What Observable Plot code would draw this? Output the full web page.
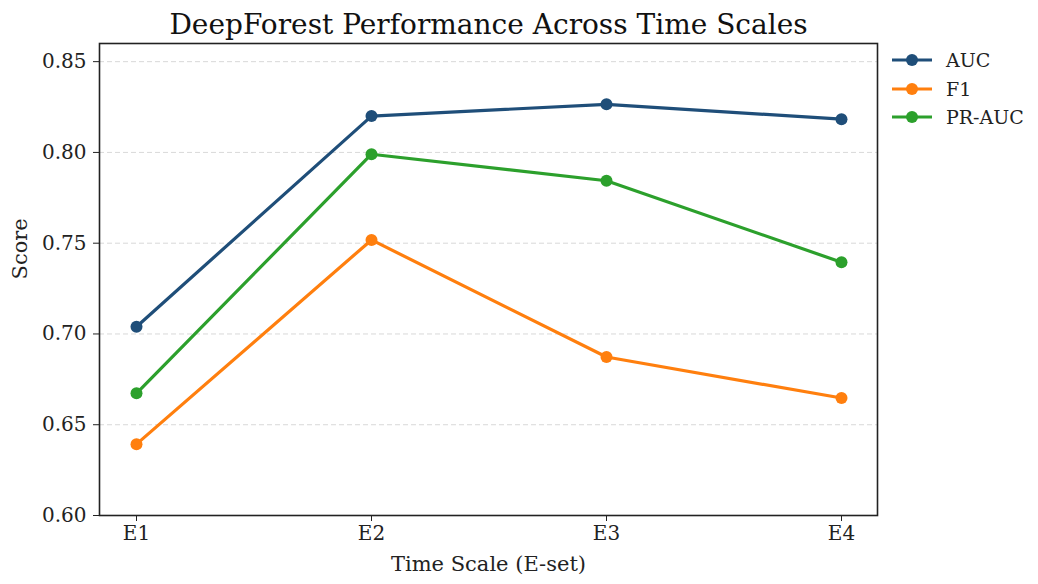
<!DOCTYPE html>
<html>
<head>
<meta charset="utf-8">
<script src="https://cdn.jsdelivr.net/npm/d3@7"></script>
<script src="https://cdn.jsdelivr.net/npm/@observablehq/plot@0.6"></script>
<style>
  html, body { margin: 0; padding: 0; background: #fff; }
  #wrap { position: relative; width: 1038px; height: 584px; font-family: "DejaVu Serif", serif; }
  #legend { position: absolute; left: 891px; top: 46px; font-size: 19px; color: #222; }
  .row { display: flex; align-items: center; height: 28.5px; }
  .row svg { margin-right: 13px; }
</style>
</head>
<body>
<div id="wrap"><div id="legend"></div></div>
<script>
const categories = ["E1", "E2", "E3", "E4"];
const metrics = ["AUC", "F1", "PR-AUC"];
const aucValues = [0.7040, 0.8200, 0.8265, 0.8183];
const f1Values = [0.6393, 0.7518, 0.6873, 0.6647];
const prAucValues = [0.6673, 0.7990, 0.7844, 0.7395];
const colors = ["#1f4e79", "#ff7f0e", "#2ca02c"];
const yTicks = [0.60, 0.65, 0.70, 0.75, 0.80, 0.85];
const title = "DeepForest Performance Across Time Scales";
const xLabel = "Time Scale (E-set)";
const yLabel = "Score";

const series = [aucValues, f1Values, prAucValues];
const data = [];
metrics.forEach((m, i) => categories.forEach((c, j) => data.push({metric: m, cat: c, value: series[i][j]})));

const chart = Plot.plot({
  width: 1038,
  height: 584,
  marginLeft: 99,
  marginRight: 161,
  marginTop: 43,
  marginBottom: 69,
  style: {fontFamily: "DejaVu Serif, serif", fontSize: "20px", color: "#222", background: "#fff"},
  x: {type: "point", domain: categories, padding: 0.15, label: null},
  y: {domain: [0.60, 0.86], label: null},
  color: {domain: metrics, range: colors},
  marks: [
    Plot.gridY(yTicks, {stroke: "#d0d0d0", strokeOpacity: 0.8, strokeDasharray: "5,3", strokeWidth: 1}),
    Plot.axisY({ticks: yTicks, tickFormat: d3.format(".2f"), tickSize: 6, tickPadding: 7, label: null, fontSize: 20, stroke: "#222"}),
    Plot.axisX({tickSize: 6, tickPadding: 4, label: null, fontSize: 20, stroke: "#222"}),
    Plot.line(data, {x: "cat", y: "value", z: "metric", stroke: "metric", strokeWidth: 3.2}),
    Plot.dot(data, {x: "cat", y: "value", fill: "metric", r: 6}),
    Plot.frame({stroke: "#222", strokeWidth: 1.6}),
    Plot.text([title], {frameAnchor: "top", dy: -10, lineAnchor: "bottom", fontSize: 28, fill: "#111"}),
    Plot.text([xLabel], {frameAnchor: "bottom", dy: 49, lineAnchor: "middle", fontSize: 21, fill: "#222"}),
    Plot.text([yLabel], {frameAnchor: "left", dx: -79, rotate: -90, lineAnchor: "middle", fontSize: 21, fill: "#222"})
  ]
});
const wrap = document.getElementById("wrap");
wrap.insertBefore(chart, wrap.firstChild);

const legend = document.getElementById("legend");
metrics.forEach((m, i) => {
  const row = document.createElement("div");
  row.className = "row";
  row.innerHTML = `<svg width="42" height="14"><line x1="1" y1="7" x2="41" y2="7" stroke="${colors[i]}" stroke-width="3.2"/><circle cx="21" cy="7" r="6" fill="${colors[i]}"/></svg><span>${m}</span>`;
  legend.appendChild(row);
});
</script>
</body>
</html>
